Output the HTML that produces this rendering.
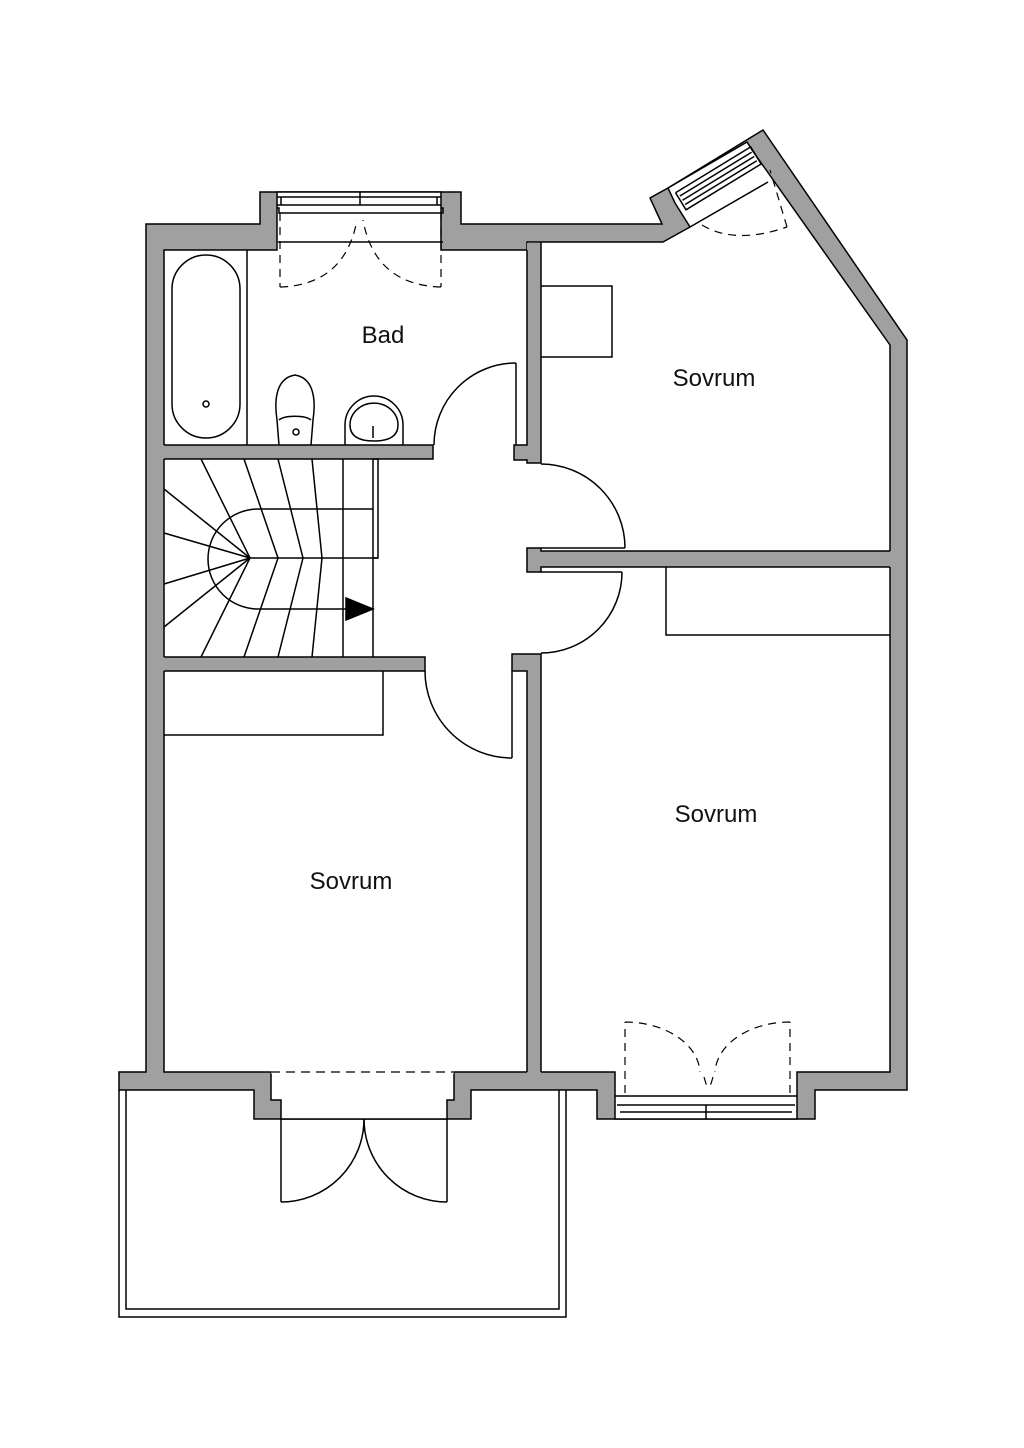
<!DOCTYPE html>
<html><head><meta charset="utf-8"><style>
html,body{margin:0;padding:0;background:#fff;}
svg{display:block;}
text{font-family:"Liberation Sans",sans-serif;font-size:24px;fill:#111;}
</style></head><body>
<svg width="1024" height="1448" viewBox="0 0 1024 1448" xmlns="http://www.w3.org/2000/svg">
<rect width="1024" height="1448" fill="#fff"/>
<g stroke="#000" stroke-width="1.5" stroke-linejoin="miter">
<polygon fill="#a0a0a0" points="146,224 260,224 260,192 461,192 461,224 662,224 650,198 668,188 763,130 907,340 907,1090 815,1090 815,1119 597,1119 597,1090 471,1090 471,1119 254,1119 254,1090 119,1090 119,1072 146,1072"/>
<polygon fill="#fff" points="164,250 277,250 277,192 441,192 441,250 527,250 527,242 663,242 690,227 675,203 668,188 747,142 752,150 890,345 890,1072 797,1072 797,1119 615,1119 615,1072 454,1072 454,1100 447,1100 447,1119 281,1119 281,1100 271,1100 271,1072 164,1072"/>
</g>
<g fill="#a0a0a0" stroke="none">
<rect x="159" y="445" width="274" height="14"/>
<rect x="159" y="657" width="266" height="14"/>
<polygon points="527,243 541,243 541,463 527,463 527,460 514,460 514,445 527,445"/>
<polygon points="527,548 541,548 541,551 895,551 895,567 541,567 541,572 527,572"/>
<polygon points="527,654 541,654 541,1077 527,1077 527,671 512,671 512,654"/>
</g>
<g fill="none" stroke="#000" stroke-width="1.5">
<polyline points="164,445 433,445 433,459 164,459"/>
<polyline points="164,657 425,657 425,671 164,671"/>
<polyline points="527,250 527,445 514,445 514,460 527,460 527,463 541,463 541,242"/>
<polyline points="890,551 541,551 541,548 527,548 527,572 541,572 541,567 890,567"/>
<polyline points="527,1072 527,671 512,671 512,654 541,654 541,1072"/>
<line x1="271" y1="1072" x2="454" y2="1072" stroke="#fff" stroke-width="3"/>
<line x1="271" y1="1072" x2="454" y2="1072" stroke-dasharray="9,6" stroke-width="1.2"/>
<line x1="516" y1="363" x2="516" y2="445"/>
<path d="M516,363 A82,82 0 0,0 434,445"/>
<line x1="541" y1="548" x2="625" y2="548"/>
<path d="M625,548 A84,84 0 0,0 541,464"/>
<line x1="541" y1="572" x2="622" y2="572"/>
<path d="M622,572 A81,81 0 0,1 541,653"/>
<line x1="512" y1="671" x2="512" y2="758"/>
<path d="M425,671 A87,87 0 0,0 512,758"/>
<line x1="281" y1="1119" x2="281" y2="1202"/>
<path d="M281,1202 A83,83 0 0,0 364,1119"/>
<line x1="447" y1="1119" x2="447" y2="1202"/>
<path d="M447,1202 A83,83 0 0,1 364,1119"/>
<polyline points="119,1090 119,1317 566,1317 566,1090"/>
<polyline points="126,1090 126,1309 559,1309 559,1090"/>
<polyline points="541,286 612,286 612,357 541,357"/>
<polyline points="666,567 666,635 890,635"/>
<polyline points="164,735 383,735 383,671"/>
<line x1="247" y1="250" x2="247" y2="445"/>
<rect x="172" y="255" width="68" height="183" rx="34" ry="34"/>
<circle cx="206" cy="404" r="3"/>
<path d="M279,445 L277,420 C274,400 276,378 295,375 C314,378 316,400 313,420 L311,445"/>
<path d="M279,420 C285,415 305,415 311,420"/>
<circle cx="296" cy="432" r="3"/>
<path d="M345,445 L345,425 A29,29 0 0,1 403,425 L403,445"/>
<path d="M350,425 A22,20 0 0,1 398,425 C398,437 388,441 374,441 C360,441 350,437 350,425 Z"/>
<line x1="373" y1="426" x2="373" y2="438"/>
<line x1="373" y1="459" x2="373" y2="657"/>
<polyline points="373,459 378,459 378,558 373,558"/>
<line x1="343" y1="459" x2="343" y2="657"/>
<line x1="250" y1="558" x2="378" y2="558"/>
<path d="M373,509 L258,509 A50,50 0 0,0 258,609 L346,609"/>
<polyline points="201,459 250,558 201,657"/>
<polyline points="244,459 278,558 244,657"/>
<polyline points="278,459 303,558 278,657"/>
<polyline points="312,459 322,558 312,657"/>
<line x1="164" y1="489" x2="250" y2="558"/>
<line x1="164" y1="533" x2="250" y2="558"/>
<line x1="164" y1="584" x2="250" y2="558"/>
<line x1="164" y1="627" x2="250" y2="558"/>
<line x1="277" y1="197" x2="441" y2="197"/>
<line x1="277" y1="205" x2="441" y2="205"/>
<line x1="281" y1="197" x2="281" y2="205"/>
<line x1="437" y1="197" x2="437" y2="205"/>
<line x1="360" y1="192" x2="360" y2="205"/>
<polyline points="277,208 279,208 279,213 443,213 443,208 441,208"/>
<line x1="278" y1="242" x2="443" y2="242"/>
<g stroke-dasharray="8,6" stroke-width="1.2">
<line x1="280" y1="213" x2="280" y2="287"/>
<line x1="441" y1="213" x2="441" y2="287"/>
<path d="M280,287 Q345,285 357,220"/>
<path d="M441,287 Q375,285 363,220"/>
</g>
<line x1="615" y1="1096" x2="797" y2="1096"/>
<line x1="617" y1="1105" x2="795" y2="1105"/>
<line x1="620" y1="1112" x2="792" y2="1112"/>
<line x1="706" y1="1105" x2="706" y2="1119"/>
<g stroke-dasharray="8,6" stroke-width="1.2">
<line x1="625" y1="1093" x2="625" y2="1022"/>
<line x1="790" y1="1093" x2="790" y2="1022"/>
<path d="M625,1022 A75,52 0 0,1 700,1072"/>
<path d="M790,1022 A75,52 0 0,0 715,1072"/>
<line x1="704" y1="1077" x2="707" y2="1087"/>
<line x1="713" y1="1077" x2="710" y2="1087"/>
</g>
<g transform="translate(668,188) rotate(-31.4)">
<polyline points="4,8 92,8 92,28 4,28 4,8"/>
<line x1="6" y1="13" x2="90" y2="13"/>
<line x1="6" y1="18" x2="90" y2="18"/>
<line x1="6" y1="23" x2="90" y2="23"/>
</g>
<line x1="690" y1="227" x2="768" y2="182"/>
<g stroke-dasharray="8,6" stroke-width="1.2">
<path d="M702,225 Q735,245 787,227"/>
<line x1="787" y1="227" x2="770" y2="170"/>
</g>
<polygon points="346,598 346,620 373,609" fill="#000"/>
</g>
<text x="383" y="343" text-anchor="middle">Bad</text>
<text x="714" y="386" text-anchor="middle">Sovrum</text>
<text x="716" y="822" text-anchor="middle">Sovrum</text>
<text x="351" y="889" text-anchor="middle">Sovrum</text>
</svg>
</body></html>
